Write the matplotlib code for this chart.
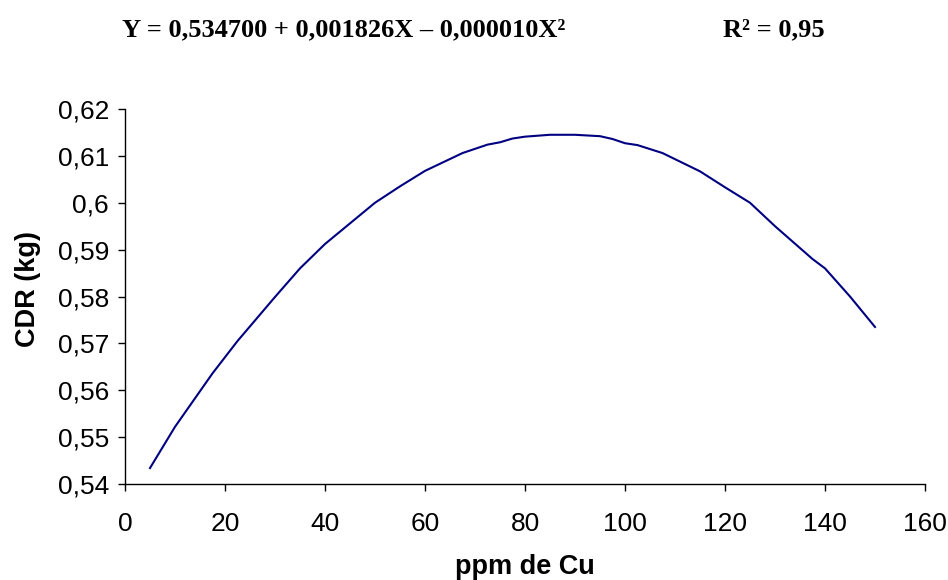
import matplotlib
matplotlib.use("Agg")
import matplotlib.pyplot as plt
from matplotlib.ticker import FuncFormatter

# Data
ppm_cu = [5, 10, 17.5, 22.5, 30, 35, 40, 45, 50, 55, 60, 67.5, 72.5, 75, 77.5,
          80, 85, 90, 95, 97.5, 100, 102.5, 107.5, 115, 120, 125, 130, 137.5,
          140, 145, 150]
cdr_kg = [0.5434, 0.5522, 0.5636, 0.5705, 0.5799, 0.5860, 0.5912, 0.5956,
          0.6000, 0.6035, 0.6068, 0.6106, 0.6124, 0.6129, 0.6137, 0.6141,
          0.6145, 0.6145, 0.6142, 0.6136, 0.6127, 0.6123, 0.6106, 0.6067,
          0.6033, 0.6000, 0.5950, 0.5880, 0.5860, 0.5800, 0.5735]
x_ticks = [0, 20, 40, 60, 80, 100, 120, 140, 160]
y_ticks = [0.54, 0.55, 0.56, 0.57, 0.58, 0.59, 0.60, 0.61, 0.62]

fig = plt.figure(figsize=(9.48, 5.8), dpi=100)
ax = fig.add_axes([125/948, 1-484/580, 800/948, 375/580])

ax.plot(ppm_cu, cdr_kg, color="#000080", linewidth=1.5)

ax.set_xlim(0, 160)
ax.set_ylim(0.54, 0.62)
ax.set_xticks(x_ticks)
ax.set_yticks(y_ticks)

def fmt(v, pos):
    s = ("%.2f" % v).rstrip("0").rstrip(".")
    return s.replace(".", ",")

ax.yaxis.set_major_formatter(FuncFormatter(fmt))
ax.xaxis.set_major_formatter(FuncFormatter(lambda v, p: "%d" % v))

for sp in ["top", "right"]:
    ax.spines[sp].set_visible(False)
for sp in ["left", "bottom"]:
    ax.spines[sp].set_color("black")
    ax.spines[sp].set_linewidth(1.0)

ax.tick_params(axis="both", direction="out", length=5, width=1.0,
               colors="black", labelsize=19)
ax.tick_params(axis="x", pad=15)
ax.tick_params(axis="y", pad=6.5)
for lab in ax.get_xticklabels() + ax.get_yticklabels():
    lab.set_fontfamily("Liberation Sans")

fig.text(525/948, 1-574/580, "ppm de Cu", ha="center", va="baseline",
         fontsize=19.5, fontweight="bold", family="Liberation Sans")
fig.text(35/948, 1-289/580, "CDR (kg)", ha="center", va="baseline",
         rotation=90, rotation_mode="anchor", fontsize=19.5,
         fontweight="bold", family="Liberation Sans")

fig.text(122/948, 1-36/580, "Y = 0,534700 + 0,001826X – 0,000010X²",
         ha="left", va="baseline", fontsize=19, fontweight="bold",
         family="Liberation Serif")
fig.text(723/948, 1-36/580, "R² = 0,95",
         ha="left", va="baseline", fontsize=19, fontweight="bold",
         family="Liberation Serif")

fig.savefig("out.png", dpi=100, facecolor="white")
